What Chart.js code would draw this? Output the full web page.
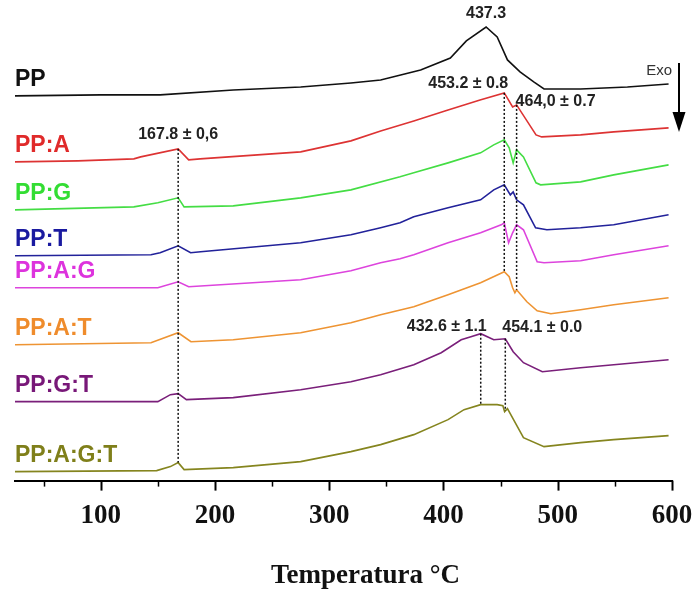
<!DOCTYPE html>
<html>
<head>
<meta charset="utf-8">
<title>DSC PP</title>
<script src="https://cdn.jsdelivr.net/npm/chart.js@4.4.1/dist/chart.umd.min.js"></script>
<style>
  html, body { margin: 0; padding: 0; background: #fff; }
  canvas { display: block; }
</style>
</head>
<body>
<canvas id="dscChart" width="697" height="592"></canvas>
<script>
// curve names, top to bottom
const sampleNames = ['PP', 'PP:A', 'PP:G', 'PP:T', 'PP:A:G', 'PP:A:T', 'PP:G:T', 'PP:A:G:T'];

// temperature (°C) / stacked heat flow (a.u.)
const tempPP = [25, 100, 152, 216, 275, 319, 345, 380, 406, 420, 437.3, 447, 456, 467, 479, 488, 520, 561, 597];
const flowPP = [385, 386, 386, 391, 394, 398, 401, 411, 423, 440, 454, 444, 421, 409, 399, 392, 392, 394, 397];

const tempA = [25, 80, 129, 135, 167.8, 177, 187, 275, 319, 345, 374, 404, 432, 453.2, 460.5, 464, 481, 486, 520, 549, 597];
const flowA = [319, 320, 322, 324, 332, 321, 322, 329, 340, 350, 360, 371, 381, 388, 374, 376, 346, 344, 346, 349, 353];

const tempG = [25, 129, 150, 167.8, 173, 216, 275, 319, 362, 374, 404, 432.5, 444, 453.2, 457.5, 461, 464, 470, 481, 485, 520, 549, 597];
const flowG = [271, 274, 278, 283, 274, 275, 283, 291, 304, 308, 318, 328, 336, 341, 333, 318, 331, 324, 298, 296, 299, 306, 316];

const tempT = [25, 144, 152, 167.8, 178.7, 187.5, 275, 319, 345, 362, 374, 404, 432.5, 444, 453.2, 458.5, 461, 464, 470, 480.6, 490.5, 520, 549, 597];
const flowT = [225, 226, 228, 235, 228, 229, 238, 246, 253, 258, 264, 273, 281, 291, 296, 286, 289, 281, 276, 253, 251, 253, 256, 266];

const tempAG = [25, 150, 167.8, 177, 275, 319, 345, 362, 374, 404, 432.5, 450.5, 453.2, 457, 460.5, 464, 470, 482, 488, 520, 549, 597];
const flowAG = [193, 193, 199, 194, 201, 210, 218, 222, 226, 238, 248, 256, 258, 238, 248, 256, 251, 219, 218, 220, 226, 235];

const tempAT = [25, 144, 167.8, 179, 216, 275, 319, 345, 374, 404, 432.5, 453.2, 457.5, 460.5, 462.5, 464, 473, 482, 494, 520, 549, 597];
const flowAT = [136, 138, 148, 139, 141, 148, 158, 166, 174, 186, 198, 209, 204, 193, 188, 191, 179, 170, 167, 171, 176, 183];

const tempGT = [25, 150, 161, 167.8, 175, 216, 275, 319, 345, 374, 398, 415.5, 424, 432.6, 444, 454.1, 461, 470, 486.5, 520, 549, 597];
const flowGT = [79, 79, 86, 87, 81, 83, 91, 99, 106, 116, 128, 141, 144, 147, 141, 142, 129, 118, 109, 113, 116, 121];

const tempAGT = [25, 149, 161, 167.8, 173, 216, 275, 319, 345, 374, 404, 418, 432.6, 447, 452, 453.5, 456, 470, 488, 520, 549, 597];
const flowAGT = [9, 10, 14, 18, 11, 13, 19, 29, 36, 46, 61, 71, 76, 76, 75, 69, 72, 43, 34, 38, 41, 45];

const temps = [tempPP, tempA, tempG, tempT, tempAG, tempAT, tempGT, tempAGT];
const flows = [flowPP, flowA, flowG, flowT, flowAG, flowAT, flowGT, flowAGT];

// marked peaks: temperature, label, curve the dotted line starts on / ends on
const peakTemps = [167.8, 453.2, 464.0, 432.6, 454.1];
const peakLabels = ['167.8 ± 0,6', '453.2 ± 0.8', '464,0 ± 0.7', '432.6 ± 1.1', '454.1 ± 0.0'];
const peakFrom = [1, 1, 1, 6, 6];
const peakTo = [7, 5, 5, 7, 7];
const ppPeakTemp = 437.3;

const xTicks = [50, 100, 150, 200, 250, 300, 350, 400, 450, 500, 550, 600];

const lineColors = ['#111111', '#dd3333', '#44dd44', '#22229a', '#dd44dd', '#ee9433', '#7a1f7a', '#85851f'];
const textColors = ['#111111', '#e02a2a', '#33dd33', '#1a1aa0', '#dd33dd', '#ef8c2c', '#781878', '#7f7f1a'];

// linear read of a curve at temperature t
function flowAt(idx, t) {
    const ts = temps[idx], fs = flows[idx];
    for (let i = 1; i < ts.length; i++) {
        if (t <= ts[i]) {
            const k = (t - ts[i - 1]) / (ts[i] - ts[i - 1]);
            return fs[i - 1] + k * (fs[i] - fs[i - 1]);
        }
    }
    return fs[fs.length - 1];
}

const decorPlugin = {
    id: 'dscDecor',
    afterDraw(chart) {
        const ctx = chart.ctx;
        const xs = chart.scales.x;
        const ys = chart.scales.y;
        const area = chart.chartArea;

        ctx.save();

        // tick marks: long at hundreds, short in between
        ctx.strokeStyle = '#000';
        xTicks.forEach(v => {
            const major = v % 100 === 0;
            const px = Math.round(xs.getPixelForValue(v)) + 0.5;
            ctx.lineWidth = major ? 2 : 1.5;
            ctx.beginPath();
            ctx.moveTo(px, area.bottom);
            ctx.lineTo(px, area.bottom + (major ? 10 : 6));
            ctx.stroke();
        });

        // dotted peak guides
        ctx.setLineDash([2, 2]);
        ctx.lineWidth = 1.5;
        ctx.strokeStyle = '#111';
        peakTemps.forEach((t, i) => {
            const px = xs.getPixelForValue(t);
            ctx.beginPath();
            ctx.moveTo(px, ys.getPixelForValue(flowAt(peakFrom[i], t)));
            ctx.lineTo(px, ys.getPixelForValue(flowAt(peakTo[i], t)));
            ctx.stroke();
        });
        ctx.setLineDash([]);

        // peak values
        const place = [
            { align: 'center', dx: 0, dy: -14 },
            { align: 'right', dx: 4, dy: -9 },
            { align: 'left', dx: -1, dy: -3 },
            { align: 'right', dx: 6, dy: -7 },
            { align: 'left', dx: -3, dy: -11 }
        ];
        ctx.font = 'bold 16px "Liberation Sans", Arial, sans-serif';
        ctx.fillStyle = '#222';
        ctx.textBaseline = 'middle';
        peakTemps.forEach((t, i) => {
            const px = xs.getPixelForValue(t);
            const py = ys.getPixelForValue(flowAt(peakFrom[i], t));
            ctx.textAlign = place[i].align;
            ctx.fillText(peakLabels[i], px + place[i].dx, py + place[i].dy);
        });
        ctx.textAlign = 'center';
        ctx.fillText(String(ppPeakTemp), xs.getPixelForValue(ppPeakTemp),
            ys.getPixelForValue(flowAt(0, ppPeakTemp)) - 13);

        // curve names on the left
        ctx.font = 'bold 23px "Liberation Sans", Arial, sans-serif';
        ctx.textAlign = 'left';
        sampleNames.forEach((name, i) => {
            ctx.fillStyle = textColors[i];
            ctx.fillText(name, area.left, ys.getPixelForValue(flows[i][0]) - 16);
        });

        // Exo arrow
        const ax = area.right + 7;
        ctx.strokeStyle = '#000';
        ctx.lineWidth = 2;
        ctx.beginPath();
        ctx.moveTo(ax, 63);
        ctx.lineTo(ax, 118);
        ctx.stroke();
        ctx.fillStyle = '#000';
        ctx.beginPath();
        ctx.moveTo(ax - 6.5, 112);
        ctx.lineTo(ax + 6.5, 112);
        ctx.lineTo(ax, 132);
        ctx.closePath();
        ctx.fill();
        ctx.font = '15px "Liberation Sans", Arial, sans-serif';
        ctx.fillStyle = '#333';
        ctx.textAlign = 'right';
        ctx.fillText('Exo', area.right, 71);

        // axis title
        ctx.font = 'bold 27px "Liberation Serif", "Times New Roman", serif';
        ctx.fillStyle = '#111';
        ctx.textAlign = 'center';
        ctx.fillText('Temperatura °C', (area.left + area.right) / 2 + 22, 576);

        ctx.restore();
    }
};

const datasets = sampleNames.map((name, i) => ({
    label: name,
    data: temps[i].map((t, j) => ({ x: t, y: flows[i][j] })),
    borderColor: lineColors[i],
    borderWidth: 1.6,
    pointRadius: 0,
    tension: 0,
    fill: false
}));

new Chart(document.getElementById('dscChart'), {
    type: 'line',
    data: { datasets: datasets },
    options: {
        responsive: false,
        animation: false,
        devicePixelRatio: 1,
        layout: { padding: { left: 15, right: 25, top: 0, bottom: 56 } },
        plugins: {
            legend: { display: false },
            tooltip: { enabled: false }
        },
        scales: {
            x: {
                type: 'linear',
                min: 25,
                max: 600,
                afterBuildTicks: axis => { axis.ticks = xTicks.map(v => ({ value: v })); },
                ticks: {
                    autoSkip: false,
                    maxRotation: 0,
                    padding: 4,
                    color: '#111',
                    font: { family: '"Liberation Serif", "Times New Roman", serif', size: 27, weight: 'bold' },
                    callback: v => (v % 100 === 0 ? v : '')
                },
                grid: {
                    drawOnChartArea: false,
                    tickLength: 15,
                    tickColor: 'rgba(0,0,0,0)'
                },
                border: { display: true, color: '#000', width: 2 }
            },
            y: {
                display: false,
                min: 0,
                max: 481
            }
        }
    },
    plugins: [decorPlugin]
});
</script>
</body>
</html>
